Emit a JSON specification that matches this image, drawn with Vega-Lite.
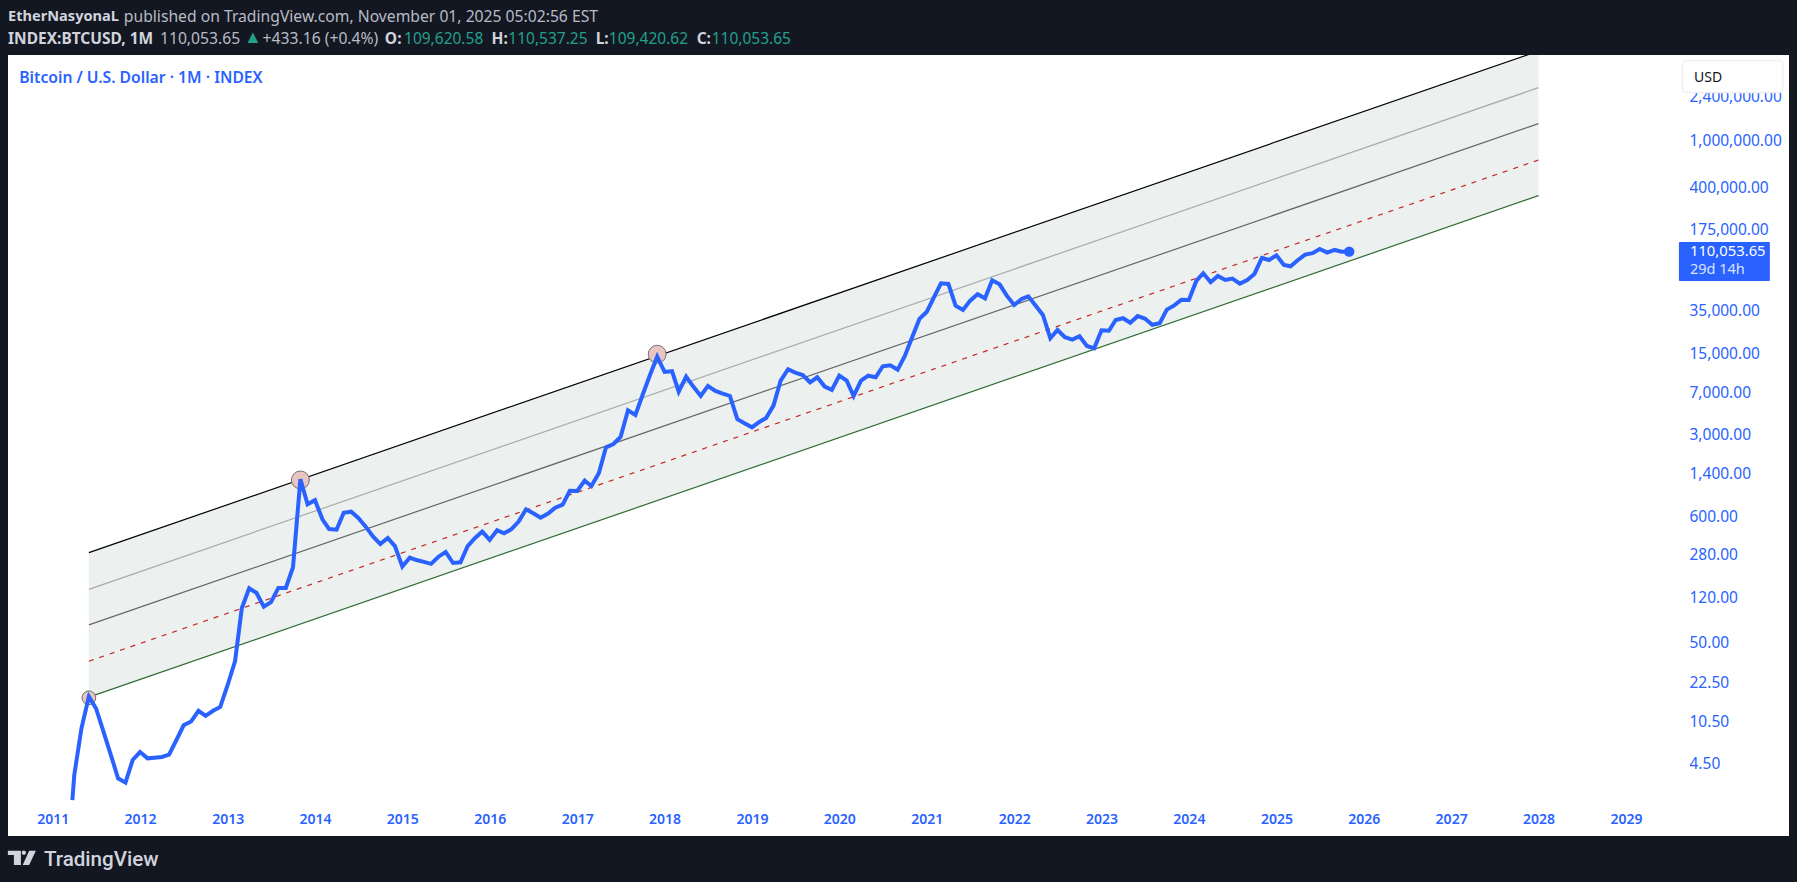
{
  "$schema": "https://vega.github.io/schema/vega-lite/v6.json",
  "width": 1781,
  "height": 781,
  "autosize": "none",
  "padding": {"left": 8, "top": 55, "right": 8, "bottom": 46},
  "background": "#131722",
  "config": {
    "view": {"fill": "#ffffff", "stroke": null},
    "font": "Noto Sans",
    "axis": {"labelFont": "Noto Sans", "title": null, "grid": false, "domain": false, "ticks": false}
  },
  "datasets": {
    "prices": [
      {"date":"2011-03-24","price":2.16},{"date":"2011-04-01","price":3.55},{"date":"2011-05-01","price":8.93},{"date":"2011-06-01","price":16.7},{"date":"2011-07-01","price":13.2},{"date":"2011-08-01","price":8.34},{"date":"2011-09-01","price":5.26},{"date":"2011-10-01","price":3.32},{"date":"2011-11-01","price":3.05},{"date":"2011-12-01","price":4.77},
      {"date":"2012-01-01","price":5.58},{"date":"2012-02-01","price":4.93},{"date":"2012-03-01","price":4.99},{"date":"2012-04-01","price":5.06},{"date":"2012-05-01","price":5.30},{"date":"2012-06-01","price":7.08},{"date":"2012-07-01","price":9.46},{"date":"2012-08-01","price":10.2},{"date":"2012-09-01","price":12.6},{"date":"2012-10-01","price":11.4},{"date":"2012-11-01","price":12.6},{"date":"2012-12-01","price":13.6},
      {"date":"2013-01-01","price":21.0},{"date":"2013-02-01","price":33.7},{"date":"2013-03-01","price":95.7},{"date":"2013-04-01","price":142},{"date":"2013-05-01","price":130},{"date":"2013-06-01","price":98.6},{"date":"2013-07-01","price":108},{"date":"2013-08-01","price":143},{"date":"2013-09-01","price":143},{"date":"2013-10-01","price":215},{"date":"2013-11-01","price":1225},{"date":"2013-12-01","price":746},
      {"date":"2014-01-01","price":809},{"date":"2014-02-01","price":555},{"date":"2014-03-01","price":458},{"date":"2014-04-01","price":452},{"date":"2014-05-01","price":632},{"date":"2014-06-01","price":645},{"date":"2014-07-01","price":570},{"date":"2014-08-01","price":480},{"date":"2014-09-01","price":394},{"date":"2014-10-01","price":340},{"date":"2014-11-01","price":384},{"date":"2014-12-01","price":327},
      {"date":"2015-01-01","price":218},{"date":"2015-02-01","price":260},{"date":"2015-03-01","price":248},{"date":"2015-04-01","price":239},{"date":"2015-05-01","price":230},{"date":"2015-06-01","price":265},{"date":"2015-07-01","price":291},{"date":"2015-08-01","price":234},{"date":"2015-09-01","price":237},{"date":"2015-10-01","price":327},{"date":"2015-11-01","price":384},{"date":"2015-12-01","price":435},
      {"date":"2016-01-01","price":369},{"date":"2016-02-01","price":447},{"date":"2016-03-01","price":421},{"date":"2016-04-01","price":456},{"date":"2016-05-01","price":530},{"date":"2016-06-01","price":676},{"date":"2016-07-01","price":625},{"date":"2016-08-01","price":573},{"date":"2016-09-01","price":621},{"date":"2016-10-01","price":698},{"date":"2016-11-01","price":741},{"date":"2016-12-01","price":977},
      {"date":"2017-01-01","price":971},{"date":"2017-02-01","price":1191},{"date":"2017-03-01","price":1072},{"date":"2017-04-01","price":1377},{"date":"2017-05-01","price":2301},{"date":"2017-06-01","price":2460},{"date":"2017-07-01","price":2825},{"date":"2017-08-01","price":4786},{"date":"2017-09-01","price":4365},{"date":"2017-10-01","price":6471},{"date":"2017-11-01","price":9610},{"date":"2017-12-01","price":13800},
      {"date":"2018-01-01","price":10200},{"date":"2018-02-01","price":10350},{"date":"2018-03-01","price":6920},{"date":"2018-04-01","price":9300},{"date":"2018-05-01","price":7640},{"date":"2018-06-01","price":6350},{"date":"2018-07-01","price":7740},{"date":"2018-08-01","price":7010},{"date":"2018-09-01","price":6650},{"date":"2018-10-01","price":6350},{"date":"2018-11-01","price":4010},{"date":"2018-12-01","price":3700},
      {"date":"2019-01-01","price":3420},{"date":"2019-02-01","price":3800},{"date":"2019-03-01","price":4110},{"date":"2019-04-01","price":5250},{"date":"2019-05-01","price":8590},{"date":"2019-06-01","price":10770},{"date":"2019-07-01","price":10070},{"date":"2019-08-01","price":9610},{"date":"2019-09-01","price":8320},{"date":"2019-10-01","price":9190},{"date":"2019-11-01","price":7640},{"date":"2019-12-01","price":7150},
      {"date":"2020-01-01","price":9480},{"date":"2020-02-01","price":8590},{"date":"2020-03-01","price":6350},{"date":"2020-04-01","price":8590},{"date":"2020-05-01","price":9480},{"date":"2020-06-01","price":9190},{"date":"2020-07-01","price":11420},{"date":"2020-08-01","price":11640},{"date":"2020-09-01","price":10660},{"date":"2020-10-01","price":14000},{"date":"2020-11-01","price":20370},{"date":"2020-12-01","price":29100},
      {"date":"2021-01-01","price":33570},{"date":"2021-02-01","price":45190},{"date":"2021-03-01","price":58900},{"date":"2021-04-01","price":58080},{"date":"2021-05-01","price":37840},{"date":"2021-06-01","price":34750},{"date":"2021-07-01","price":41780},{"date":"2021-08-01","price":47420},{"date":"2021-09-01","price":43750},{"date":"2021-10-01","price":62520},{"date":"2021-11-01","price":57680},{"date":"2021-12-01","price":46130},
      {"date":"2022-01-01","price":38370},{"date":"2022-02-01","price":43150},{"date":"2022-03-01","price":45500},{"date":"2022-04-01","price":37840},{"date":"2022-05-01","price":31480},{"date":"2022-06-01","price":19860},{"date":"2022-07-01","price":23390},{"date":"2022-08-01","price":20280},{"date":"2022-09-01","price":19320},{"date":"2022-10-01","price":20650},{"date":"2022-11-01","price":17060},{"date":"2022-12-01","price":16290},
      {"date":"2023-01-01","price":23280},{"date":"2023-02-01","price":23070},{"date":"2023-03-01","price":28510},{"date":"2023-04-01","price":29510},{"date":"2023-05-01","price":27040},{"date":"2023-06-01","price":30760},{"date":"2023-07-01","price":29310},{"date":"2023-08-01","price":25940},{"date":"2023-09-01","price":26790},{"date":"2023-10-01","price":35000},{"date":"2023-11-01","price":38010},{"date":"2023-12-01","price":42560},
      {"date":"2024-01-01","price":42360},{"date":"2024-02-01","price":61660},{"date":"2024-03-01","price":71780},{"date":"2024-04-01","price":60120},{"date":"2024-05-01","price":68070},{"date":"2024-06-01","price":62810},{"date":"2024-07-01","price":64570},{"date":"2024-08-01","price":58480},{"date":"2024-09-01","price":62810},{"date":"2024-10-01","price":70790},{"date":"2024-11-01","price":97050},{"date":"2024-12-01","price":93330},
      {"date":"2025-01-01","price":102330},{"date":"2025-02-01","price":84530},{"date":"2025-03-01","price":82410},{"date":"2025-04-01","price":93330},{"date":"2025-05-01","price":103750},{"date":"2025-06-01","price":106660},{"date":"2025-07-01","price":115880},{"date":"2025-08-01","price":107900},{"date":"2025-09-01","price":113760},{"date":"2025-10-01","price":109900},{"date":"2025-11-01","price":110053.65}
    ],
    "channel": [
      {"date":"2011-06-01","top":287,"upper":139,"middle":68.8,"lower":33.6,"bottom":16.5},
      {"date":"2028-01-01","top":5790000,"upper":2810000,"middle":1380000,"lower":673000,"bottom":332700}
    ],
    "bigPeaks": [{"date":"2013-11-01","price":1208},{"date":"2017-12-01","price":14490}],
    "firstPeak": [{"date":"2011-06-01","price":16.3}],
    "lastClose": [{"date":"2025-11-01","price":110053.65}],
    "authorName": [{"date":"2010-06-28","price":11480000,"label":"EtherNasyonaL"}],
    "boldHeader": [
      {"date":"2010-06-28","price":7430000,"label":"INDEX:BTCUSD, 1M"},
      {"date":"2014-10-20","price":7430000,"label":"O:"},
      {"date":"2016-01-09","price":7430000,"label":"H:"},
      {"date":"2017-03-19","price":7430000,"label":"L:"},
      {"date":"2018-05-15","price":7430000,"label":"C:"}
    ],
    "plainHeader": [
      {"date":"2011-10-25","price":11480000,"label":"published on TradingView.com, November 01, 2025 05:02:56 EST"},
      {"date":"2012-03-24","price":7430000,"label":"110,053.65"},
      {"date":"2013-05-27","price":7430000,"label":"+433.16 (+0.4%)"}
    ],
    "tealHeader": [
      {"date":"2015-01-08","price":7430000,"label":"109,620.58"},
      {"date":"2016-03-19","price":7430000,"label":"110,537.25"},
      {"date":"2017-05-13","price":7430000,"label":"109,420.62"},
      {"date":"2018-07-17","price":7430000,"label":"110,053.65"}
    ],
    "upMark": [{"date":"2013-03-10","price":7430000,"label":"▲"}],
    "paneTitle": [{"date":"2010-08-14","price":3490000,"label":"Bitcoin / U.S. Dollar · 1M · INDEX"}],
    "currency": [{"date":"2029-08-25","date2":"2030-10-18","price":4800000,"price2":2550000}],
    "currencyText": [{"date":"2029-10-12","price":3490000,"label":"USD"}],
    "priceTag": [{"date":"2029-08-10","date2":"2030-08-25","price":133300,"price2":61660}],
    "priceTagValue": [{"date":"2029-09-25","price":110053.65,"label":"110,053.65"}],
    "priceTagTimer": [{"date":"2029-09-25","price":76560,"label":"29d 14h"}],
    "logo": [{"date":"2010-08-25","price":0.69}],
    "brand": [{"date":"2010-11-25","price":0.66,"label":"TradingView"}]
  },
  "encoding": {
    "x": {
      "field": "date",
      "type": "temporal",
      "scale": {
        "type": "utc",
        "domain": [{"year":2010,"month":6,"date":28,"utc":true},{"year":2030,"month":11,"date":13,"utc":true}]
      },
      "axis": {
        "orient": "bottom",
        "offset": -17,
        "labelPadding": 0,
        "labelBaseline": "middle",
        "format": "%Y",
        "labelColor": "#2962ff",
        "labelFontSize": 14,
        "labelFontWeight": 600,
        "labelOverlap": false,
        "values": [
          {"year":2011,"month":1,"date":1,"utc":true},{"year":2012,"month":1,"date":1,"utc":true},{"year":2013,"month":1,"date":1,"utc":true},{"year":2014,"month":1,"date":1,"utc":true},{"year":2015,"month":1,"date":1,"utc":true},
          {"year":2016,"month":1,"date":1,"utc":true},{"year":2017,"month":1,"date":1,"utc":true},{"year":2018,"month":1,"date":1,"utc":true},{"year":2019,"month":1,"date":1,"utc":true},{"year":2020,"month":1,"date":1,"utc":true},
          {"year":2021,"month":1,"date":1,"utc":true},{"year":2022,"month":1,"date":1,"utc":true},{"year":2023,"month":1,"date":1,"utc":true},{"year":2024,"month":1,"date":1,"utc":true},{"year":2025,"month":1,"date":1,"utc":true},
          {"year":2026,"month":1,"date":1,"utc":true},{"year":2027,"month":1,"date":1,"utc":true},{"year":2028,"month":1,"date":1,"utc":true},{"year":2029,"month":1,"date":1,"utc":true}
        ]
      }
    },
    "y": {
      "field": "price",
      "type": "quantitative",
      "scale": {"type": "log", "domain": [1.062, 5360000], "nice": false},
      "axis": {
        "orient": "right",
        "offset": -100,
        "labelPadding": 0,
        "labelAlign": "left",
        "labelOffset": 1,
        "format": ",.2f",
        "labelColor": "#2962ff",
        "labelFontSize": 15.5,
        "labelOverlap": false,
        "labelBound": false,
        "values": [4.5,10.5,22.5,50,120,280,600,1400,3000,7000,15000,35000,175000,400000,1000000,2400000]
      }
    }
  },
  "layer": [
    {
      "data": {"name": "channel"},
      "mark": {"type": "area", "color": "#ecf0ee", "clip": true},
      "encoding": {"y": {"field": "top", "type": "quantitative"}, "y2": {"field": "bottom"}}
    },
    {
      "data": {"name": "channel"},
      "mark": {"type": "line", "color": "#000000", "strokeWidth": 1.2, "clip": true},
      "encoding": {"y": {"field": "top", "type": "quantitative"}}
    },
    {
      "data": {"name": "channel"},
      "mark": {"type": "line", "color": "#a9abaa", "strokeWidth": 1.2, "clip": true},
      "encoding": {"y": {"field": "upper", "type": "quantitative"}}
    },
    {
      "data": {"name": "channel"},
      "mark": {"type": "line", "color": "#666666", "strokeWidth": 1.2, "clip": true},
      "encoding": {"y": {"field": "middle", "type": "quantitative"}}
    },
    {
      "data": {"name": "channel"},
      "mark": {"type": "line", "color": "#c62828", "strokeWidth": 1.2, "strokeDash": [5, 6], "clip": true},
      "encoding": {"y": {"field": "lower", "type": "quantitative"}}
    },
    {
      "data": {"name": "channel"},
      "mark": {"type": "line", "color": "#2e6b34", "strokeWidth": 1.2, "clip": true},
      "encoding": {"y": {"field": "bottom", "type": "quantitative"}}
    },
    {
      "data": {"name": "firstPeak"},
      "mark": {"type": "circle", "size": 190, "color": "#e8c5c0", "opacity": 1, "stroke": "#707070", "strokeWidth": 1}
    },
    {
      "data": {"name": "bigPeaks"},
      "mark": {"type": "circle", "size": 320, "color": "#e8c5c0", "opacity": 1, "stroke": "#707070", "strokeWidth": 1}
    },
    {
      "data": {"name": "prices"},
      "mark": {"type": "line", "color": "#2962ff", "strokeWidth": 4, "strokeJoin": "miter"}
    },
    {
      "data": {"name": "lastClose"},
      "mark": {"type": "circle", "size": 110, "color": "#2962ff", "opacity": 1}
    },
    {
      "data": {"name": "currency"},
      "mark": {"type": "rect", "color": "#ffffff", "stroke": "#eeeff2", "strokeWidth": 1.5, "cornerRadius": 4},
      "encoding": {"x2": {"field": "date2"}, "y2": {"field": "price2"}}
    },
    {
      "data": {"name": "currencyText"},
      "mark": {"type": "text", "align": "left", "baseline": "middle", "dy": 1, "fontSize": 14, "color": "#131722"},
      "encoding": {"text": {"field": "label"}}
    },
    {
      "data": {"name": "priceTag"},
      "mark": {"type": "rect", "color": "#2962ff", "cornerRadius": 1},
      "encoding": {"x2": {"field": "date2"}, "y2": {"field": "price2"}}
    },
    {
      "data": {"name": "priceTagValue"},
      "mark": {"type": "text", "align": "left", "baseline": "middle", "fontSize": 14.8, "color": "#ffffff"},
      "encoding": {"text": {"field": "label"}}
    },
    {
      "data": {"name": "priceTagTimer"},
      "mark": {"type": "text", "align": "left", "baseline": "middle", "fontSize": 14.5, "color": "#dbe4ff"},
      "encoding": {"text": {"field": "label"}}
    },
    {
      "data": {"name": "paneTitle"},
      "mark": {"type": "text", "align": "left", "baseline": "middle", "dy": 1, "fontSize": 15.7, "fontWeight": 600, "color": "#2962ff"},
      "encoding": {"text": {"field": "label"}}
    },
    {
      "data": {"name": "authorName"},
      "mark": {"type": "text", "align": "left", "baseline": "middle", "dy": 1, "fontSize": 14.6, "fontWeight": 700, "color": "#d1d4dc"},
      "encoding": {"text": {"field": "label"}}
    },
    {
      "data": {"name": "boldHeader"},
      "mark": {"type": "text", "align": "left", "baseline": "middle", "dy": 1, "fontSize": 15.5, "fontWeight": 700, "color": "#d1d4dc"},
      "encoding": {"text": {"field": "label"}}
    },
    {
      "data": {"name": "plainHeader"},
      "mark": {"type": "text", "align": "left", "baseline": "middle", "dy": 1, "fontSize": 15.7, "color": "#b8bbc4"},
      "encoding": {"text": {"field": "label"}}
    },
    {
      "data": {"name": "tealHeader"},
      "mark": {"type": "text", "align": "left", "baseline": "middle", "dy": 1, "fontSize": 15.5, "color": "#22a08c"},
      "encoding": {"text": {"field": "label"}}
    },
    {
      "data": {"name": "upMark"},
      "mark": {"type": "text", "align": "left", "baseline": "middle", "fontSize": 18, "color": "#22a08c"},
      "encoding": {"text": {"field": "label"}}
    },
    {
      "data": {"name": "logo"},
      "mark": {
        "type": "point",
        "filled": true,
        "opacity": 1,
        "size": 784,
        "color": "#d1d4dc",
        "shape": "M-1,-.51 L-.07,-.51 L-.07,.51 L-.57,.51 L-.57,-.2 L-1,-.2 Z M-.01,-.37 A.15,.15 0 1 1 .29,-.37 A.15,.15 0 1 1 -.01,-.37 Z M.52,-.51 L1,-.51 L.52,.51 L.06,.51 Z"
      }
    },
    {
      "data": {"name": "brand"},
      "mark": {"type": "text", "align": "left", "baseline": "middle", "fontSize": 20.6, "fontWeight": 500, "font": "Roboto", "color": "#d1d4dc"},
      "encoding": {"text": {"field": "label"}}
    }
  ]
}
